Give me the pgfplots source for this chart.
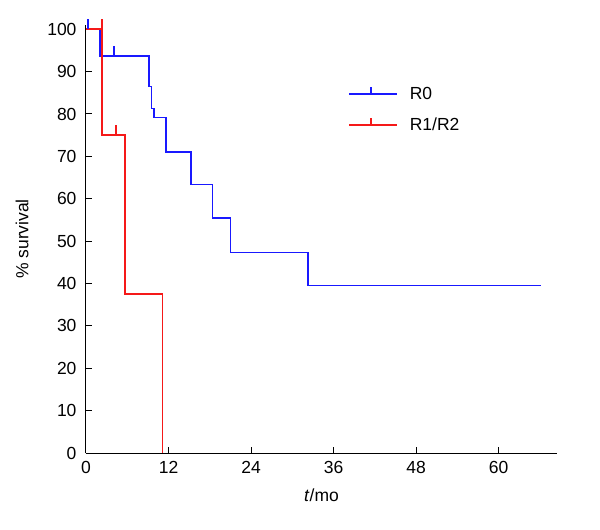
\documentclass[border=0pt]{standalone}
\usepackage{pgfplots}
\pgfplotsset{compat=1.18}
\usepackage{fontspec}
\setmainfont{Liberation Sans}
\pgfdeclareplotmark{cens}{\pgfpathmoveto{\pgfpoint{0pt}{0pt}}\pgfpathlineto{\pgfpoint{0pt}{10bp}}\pgfusepathqstroke}
\definecolor{kmblue}{RGB}{25,25,255}
\definecolor{kmred}{RGB}{245,25,25}
\begin{document}
\begin{tikzpicture}
\begin{axis}[
  scale only axis,
  width=471bp, height=428bp,
  xmin=0, xmax=68.5, ymin=0, ymax=101,
  axis lines=left,
  axis line style={-, line width=1bp},
  tick style={line width=1bp, black},
  tick align=inside,
  major tick length=6bp,
  xtick={0,12,24,36,48,60},
  ytick={0,10,...,100},
  clip=false,
  font=\fontsize{17.5bp}{21bp}\selectfont,
  /pgf/number format/assume math mode=true,
  xticklabel style={yshift=-5bp},
  yticklabel style={xshift=-6bp},
  xlabel={\textit{t}/mo},
  ylabel={\% survival},
  xlabel style={yshift=-8bp},
  ylabel style={yshift=12bp},
  legend style={at={(rel axis cs:0.55,0.865)}, anchor=north west, draw=none, fill=none,
    row sep=13bp, font=\fontsize{17.5bp}{21bp}\selectfont},
  legend cell align=left,
  legend image code/.code={\draw[#1] (0bp,0bp) -- (48bp,0bp); \draw[#1] (22bp,0bp) -- (22bp,7bp); \path (58bp,0bp);},
]
\coordinate (o) at (axis cs:0,0);
\addplot[const plot, kmblue, line width=1.6bp] coordinates {
 (0,100) (2.07,93.75) (9.2,86.5) (9.5,81.3) (9.9,79.2) (11.6,71.0) (15.3,63.4) (18.4,55.4) (21.0,47.3) (32.3,39.5) (66.1,39.5)
};
\addlegendentry{R0}
\addplot[const plot, kmred, line width=1.6bp] coordinates {
 (0,100) (2.3,75) (5.65,37.5) (11.1,0) (11.1,0)
};
\addlegendentry{R1/R2}
\addplot[only marks, mark=cens, mark options={draw=kmblue, line width=2bp}, forget plot] coordinates {(0.25,100) (4.0,93.75)};
\addplot[only marks, mark=cens, mark options={draw=kmred, line width=2bp}, forget plot] coordinates {(2.3,100) (4.3,75)};
\end{axis}
\path (o) ++(-86bp,-77bp) rectangle ++(600bp,530bp);
\end{tikzpicture}
\end{document}
